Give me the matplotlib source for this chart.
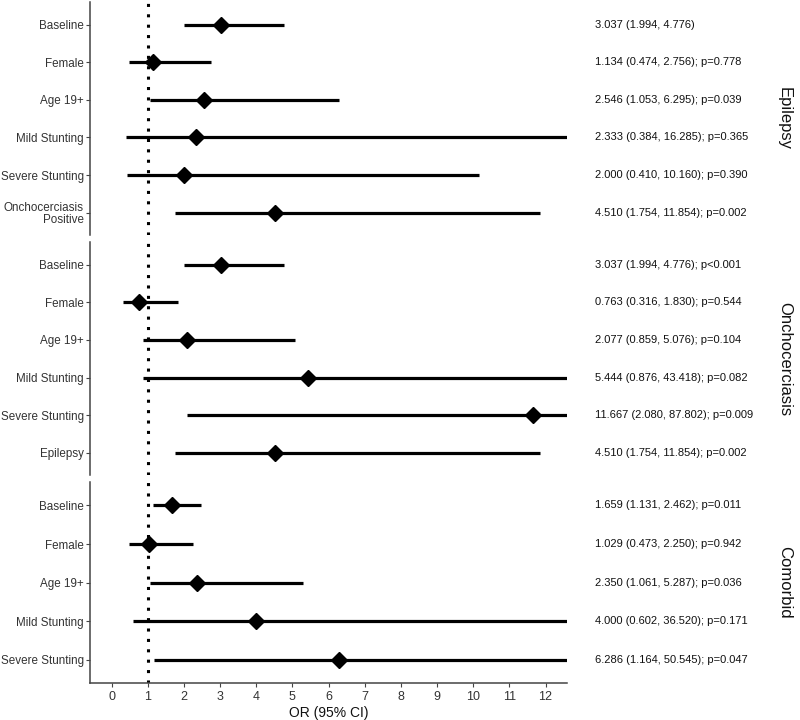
import matplotlib
matplotlib.use("Agg")
import matplotlib.pyplot as plt
import matplotlib.transforms as mtransforms

plt.rcParams['font.family'] = ['Liberation Sans', 'DejaVu Sans']

# -------------------- Data --------------------

panels = ["Epilepsy", "Onchocerciasis", "Comorbid"]

epi_labels = ["Baseline", "Female", "Age 19+", "Mild Stunting", "Severe Stunting",
              "Onchocerciasis\nPositive"]
epi_or = [3.037, 1.134, 2.546, 2.333, 2.000, 4.510]
epi_lo = [1.994, 0.474, 1.053, 0.384, 0.410, 1.754]
epi_hi = [4.776, 2.756, 6.295, 16.285, 10.160, 11.854]
epi_p = ["", "=0.778", "=0.039", "=0.365", "=0.390", "=0.002"]

onc_labels = ["Baseline", "Female", "Age 19+", "Mild Stunting", "Severe Stunting", "Epilepsy"]
onc_or = [3.037, 0.763, 2.077, 5.444, 11.667, 4.510]
onc_lo = [1.994, 0.316, 0.859, 0.876, 2.080, 1.754]
onc_hi = [4.776, 1.830, 5.076, 43.418, 87.802, 11.854]
onc_p = ["<0.001", "=0.544", "=0.104", "=0.082", "=0.009", "=0.002"]

com_labels = ["Baseline", "Female", "Age 19+", "Mild Stunting", "Severe Stunting"]
com_or = [1.659, 1.029, 2.350, 4.000, 6.286]
com_lo = [1.131, 0.473, 1.061, 0.602, 1.164]
com_hi = [2.462, 2.250, 5.287, 36.520, 50.545]
com_p = ["=0.011", "=0.942", "=0.036", "=0.171", "=0.047"]

groups = [
    (epi_labels, epi_or, epi_lo, epi_hi, epi_p),
    (onc_labels, onc_or, onc_lo, onc_hi, onc_p),
    (com_labels, com_or, com_lo, com_hi, com_p),
]

x_ticks = list(range(0, 13))

# -------------------- Plot --------------------

fig = plt.figure(figsize=(8, 7.2), dpi=100)
sizes = [len(g[0]) + 1.2 for g in groups]
gs = fig.add_gridspec(3, 1, height_ratios=sizes, left=0.1125, right=0.709,
                      top=0.997, bottom=0.0514, hspace=0.0315)

axis_col = "#444444"
text_col = "#333333"

for i, (name, (labels, ors, los, his, ps)) in enumerate(zip(panels, groups)):
    ax = fig.add_subplot(gs[i])
    n = len(labels)
    ys = list(range(n))
    ax.set_xlim(-0.6, 12.6)
    ax.set_ylim(n - 0.4, -0.6)

    ax.axvline(1, color="black", linestyle=(0, (1, 2.4)), linewidth=2.2, zorder=1)
    ax.hlines(ys, los, his, color="black", linewidth=2.3, zorder=2)
    ax.plot(ors, ys, linestyle="none", marker="D", markersize=8,
            color="black", zorder=3)

    ax.set_yticks(ys)
    ax.set_yticklabels(labels, fontsize=8.4, color=text_col, linespacing=1.0)
    ax.tick_params(axis="y", length=3, color=axis_col, pad=1.5)

    for s in ["top", "right"]:
        ax.spines[s].set_visible(False)
    ax.spines["left"].set_color(axis_col)
    ax.spines["left"].set_linewidth(1.1)

    if i < 2:
        ax.spines["bottom"].set_visible(False)
        ax.set_xticks([])
    else:
        ax.spines["bottom"].set_color(axis_col)
        ax.spines["bottom"].set_linewidth(1.1)
        ax.set_xticks(x_ticks)
        ax.set_xticklabels([str(t) for t in x_ticks], fontsize=9, color=text_col)
        ax.tick_params(axis="x", length=3, color=axis_col, pad=3)
        ax.set_xlabel("OR (95% CI)", fontsize=10, color="#111111", labelpad=2)

    trans = mtransforms.blended_transform_factory(ax.transAxes, ax.transData)
    for y, o, lo, hi, p in zip(ys, ors, los, his, ps):
        txt = f"{o:.3f} ({lo:.3f}, {hi:.3f})"
        if p:
            txt += f"; p{p}"
        ax.text(1.059, y, txt, transform=trans, fontsize=8.0, color="#111111",
                ha="left", va="center", clip_on=False)

    ax.text(1.455, 0.5, name, transform=ax.transAxes, rotation=270, fontsize=12,
            color="#111111", ha="center", va="center", clip_on=False)

fig.savefig("out.png", dpi=100)
